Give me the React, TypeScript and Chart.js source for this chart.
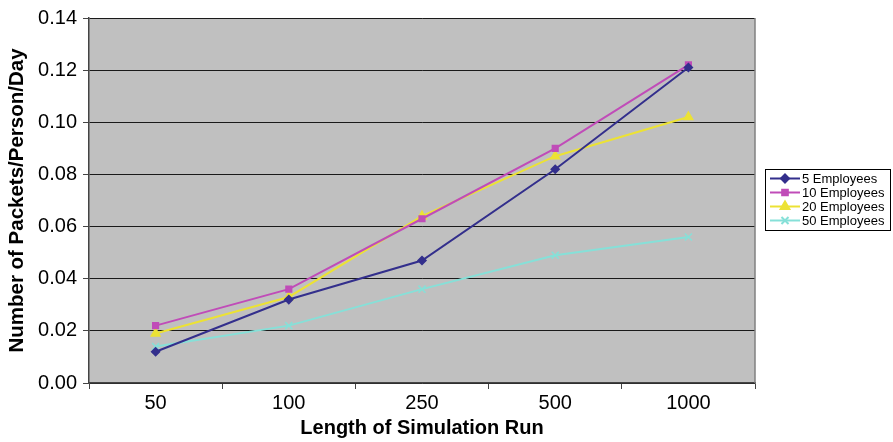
import React, { useEffect, useRef } from 'react';
import { Chart, registerables } from 'chart.js';
import { drawPoint } from 'chart.js/helpers';

Chart.register(...registerables);

const categories = ['50', '100', '250', '500', '1000'];
const seriesNames = ['5 Employees', '10 Employees', '20 Employees', '50 Employees'];
const emp5 = [0.012, 0.032, 0.047, 0.082, 0.121];
const emp10 = [0.022, 0.036, 0.063, 0.090, 0.122];
const emp20 = [0.019, 0.033, 0.064, 0.087, 0.102];
const emp50 = [0.014, 0.022, 0.036, 0.049, 0.056];
const yMin = 0;
const yMax = 0.14;
const yStep = 0.02;
const xTitle = 'Length of Simulation Run';
const yTitle = 'Number of Packets/Person/Day';

const colors = ['#332f8c', '#c04cb8', '#ece234', '#86e0d8'];
const styles = ['rectRot', 'rect', 'triangle', 'crossRot'];
const radii = [4, 4, 5, 5];

const FONT = '"Liberation Sans", Arial, Helvetica, sans-serif';

const plotBg = {
  id: 'plotBg',
  beforeDraw(chart: any) {
    const { ctx, chartArea: a } = chart;
    ctx.save();
    ctx.fillStyle = '#c0c0c0';
    ctx.fillRect(a.left, a.top, a.right - a.left, a.bottom - a.top);
    ctx.restore();
  },
  afterDraw(chart: any) {
    const { ctx, chartArea: a } = chart;
    ctx.save();
    ctx.strokeStyle = '#808080';
    ctx.lineWidth = 1.5;
    ctx.beginPath();
    ctx.moveTo(a.right, a.top);
    ctx.lineTo(a.right, a.bottom);
    ctx.stroke();
    ctx.restore();
  },
};

const boxLegend = {
  id: 'boxLegend',
  afterDraw(chart: any) {
    const { ctx, chartArea: a } = chart;
    const ds = chart.data.datasets;
    const w = 125;
    const rowH = 14;
    const h = ds.length * rowH + 5;
    const x0 = a.right + 10;
    const y0 = (a.top + a.bottom) / 2 - h / 2 - 1;
    ctx.save();
    ctx.fillStyle = '#ffffff';
    ctx.fillRect(x0, y0, w, h);
    ctx.strokeStyle = '#000';
    ctx.lineWidth = 1;
    ctx.strokeRect(x0 + 0.5, y0 + 0.5, w, h);
    ds.forEach((d: any, i: number) => {
      const y = y0 + 9.5 + i * rowH;
      ctx.strokeStyle = d.borderColor;
      ctx.fillStyle = d.backgroundColor;
      ctx.lineWidth = 2;
      ctx.beginPath();
      ctx.moveTo(x0 + 5, y);
      ctx.lineTo(x0 + 35, y);
      ctx.stroke();
      drawPoint(ctx, { pointStyle: d.pointStyle, radius: d.pointRadius, rotation: 0, borderWidth: 1.5 }, x0 + 20, y);
      ctx.fillStyle = '#000';
      ctx.font = '13px ' + FONT;
      ctx.textBaseline = 'middle';
      ctx.textAlign = 'left';
      ctx.fillText(d.label, x0 + 37, y + 0.5);
    });
    ctx.restore();
  },
};

export default function App() {
  const ref = useRef<HTMLCanvasElement>(null);
  useEffect(() => {
    document.body.style.margin = '0';
    const seriesValues = [emp5, emp10, emp20, emp50];
    const chart = new Chart(ref.current!, {
      type: 'line',
      data: {
        labels: categories,
        datasets: seriesNames.map((name, i) => ({
          label: name,
          data: seriesValues[i],
          borderColor: colors[i],
          backgroundColor: colors[i],
          pointBackgroundColor: colors[i],
          pointBorderColor: colors[i],
          pointStyle: styles[i] as any,
          pointRadius: radii[i],
          pointBorderWidth: 1.5,
          borderWidth: 2,
          tension: 0,
        })),
      },
      options: {
        responsive: false,
        animation: false,
        devicePixelRatio: 1,
        layout: { padding: { top: 17, right: 138, left: 0, bottom: 0 } },
        plugins: {
          legend: { display: false },
          tooltip: { enabled: false },
        },
        scales: {
          x: {
            type: 'category',
            offset: true,
            grid: {
              offset: true,
              drawOnChartArea: false,
              drawTicks: true,
              tickLength: 6,
              color: '#444',
            },
            border: { color: '#444', width: 1.5 },
            ticks: { color: '#000', font: { family: FONT, size: 20 }, padding: 2 },
            title: {
              display: true,
              text: xTitle,
              color: '#000',
              font: { family: FONT, size: 20, weight: 'bold' },
              padding: { top: 0, bottom: 2 },
            },
            afterFit(scale: any) {
              scale.height = 59;
            },
          },
          y: {
            min: yMin,
            max: yMax,
            ticks: {
              stepSize: yStep,
              color: '#000',
              font: { family: FONT, size: 20 },
              padding: 6,
              callback: (v: any) => Number(v).toFixed(2),
            },
            grid: { color: '#1a1a1a', lineWidth: 1, tickLength: 6, drawTicks: true, tickColor: '#444' },
            border: { color: '#444', width: 1.5 },
            title: {
              display: true,
              text: yTitle,
              color: '#000',
              font: { family: FONT, size: 20.5, weight: 'bold' },
              padding: { top: 5, bottom: 0 },
            },
            afterFit(scale: any) {
              scale.width = 89;
            },
          },
        },
      },
      plugins: [plotBg, boxLegend],
    });
    return () => chart.destroy();
  }, []);
  return (
    <div style={{ position: 'absolute', left: 0, top: 0, width: 893, height: 442 }}>
      <canvas ref={ref} width={893} height={442} />
    </div>
  );
}
